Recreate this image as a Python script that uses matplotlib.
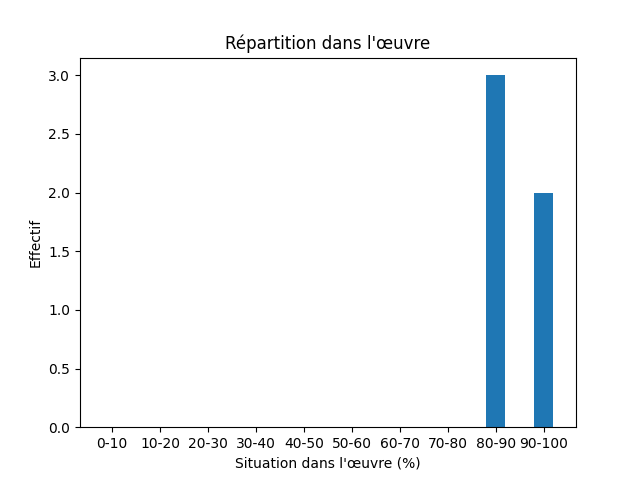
import matplotlib
matplotlib.use("Agg")
import matplotlib.pyplot as plt

# Tranches de situation dans l'oeuvre
categories = ['0-10', '10-20', '20-30', '30-40', '40-50',
              '50-60', '60-70', '70-80', '80-90', '90-100']
effectifs = [0, 0, 0, 0, 0, 0, 0, 0, 3, 2]

fig, ax = plt.subplots(figsize=(6.4, 4.8), dpi=100)
ax.bar(categories, effectifs, width=0.4)

ax.set_title("Répartition dans l'œuvre")
ax.set_xlabel("Situation dans l'œuvre (%)")
ax.set_ylabel("Effectif")

plt.savefig("out.png")
